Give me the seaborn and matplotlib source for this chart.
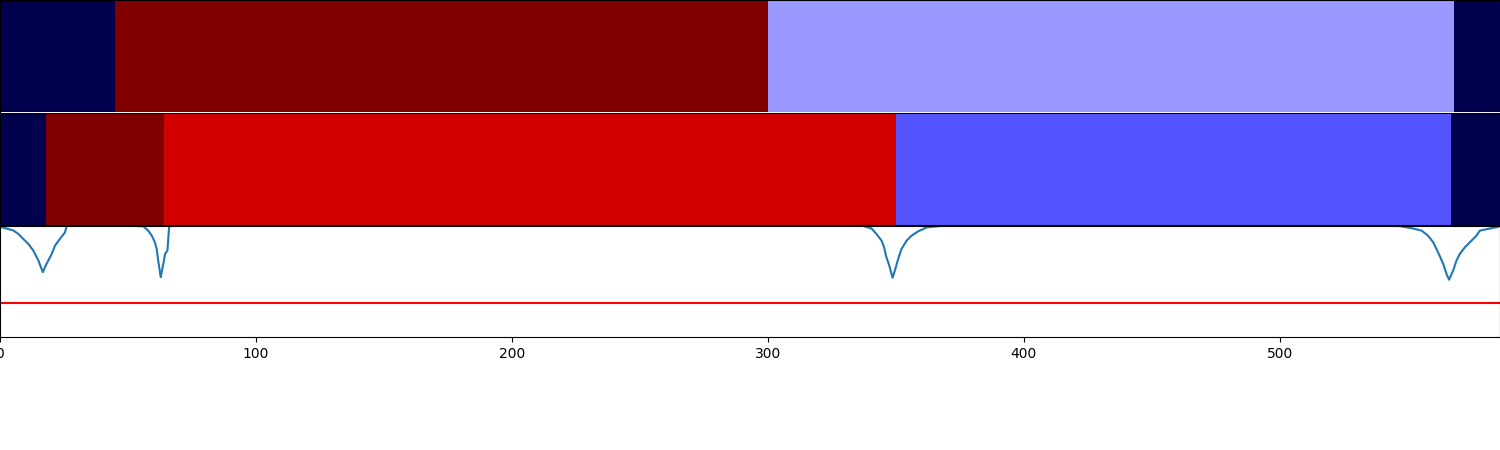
import numpy as np
import pandas as pd
import seaborn as sns
import matplotlib.pyplot as plt

# segment boundaries (frames) and the colour value of each segment
n_frames = 586
top_bounds = [0, 45, 300, 568, 586]
top_vals = [0.0, 1.0, 0.4, 0.0]
mid_bounds = [0, 18, 64, 350, 567, 586]
mid_vals = [0.0, 1.0, 0.84, 0.333, 0.0]

# novelty curve
nov_x = [0, 2.6, 5.2, 7.2, 9.1, 11.1, 13, 15, 16.7, 18.2, 20.2, 21.5, 23.4, 25.4, 26,
         40, 50,
         56, 57.9, 59.3, 60.5, 61.2, 61.8, 62.8, 63.8, 64.5, 65.4, 66.1,
         80, 200, 330,
         337.2, 340.5, 342.4, 344.4, 345.4, 346.1, 347.4, 348.7, 349.6, 350.9, 352.2,
         354.2, 356.1, 358.7, 362, 367.2,
         400, 500,
         539.1, 546.9, 552.1, 555.4, 557.9, 559.9, 561.8, 563.8, 565.1, 566.1, 567.7,
         569, 570.3, 572.3, 574.2, 576.8, 578.1, 582, 585.3]
nov_y = [0.99, 0.975, 0.958, 0.926, 0.882, 0.837, 0.778, 0.689, 0.585, 0.66, 0.748,
         0.822, 0.882, 0.941, 0.998,
         1.0, 1.0,
         0.995, 0.956, 0.911, 0.852, 0.793, 0.689, 0.54, 0.66, 0.748, 0.778, 0.998,
         1.0, 1.0, 1.0,
         0.998, 0.975, 0.926, 0.867, 0.807, 0.733, 0.644, 0.535, 0.6, 0.704, 0.793,
         0.867, 0.911, 0.95, 0.985, 0.998,
         1.0, 1.0,
         1.0, 0.997, 0.975, 0.956, 0.911, 0.852, 0.763, 0.659, 0.57, 0.517, 0.6,
         0.689, 0.748, 0.807, 0.852, 0.911, 0.956, 0.975, 0.99]
threshold = 0.307


def segments_to_row(bounds, vals):
    row = np.zeros(n_frames)
    for a, b, v in zip(bounds[:-1], bounds[1:], vals):
        row[a:b] = v
    return row.reshape(1, -1)


fig = plt.figure(figsize=(15, 4.5), dpi=100)
gs = fig.add_gridspec(3, 1, left=0, right=1, top=1, bottom=0.25, hspace=0.01)
ax_top = fig.add_subplot(gs[0])
ax_mid = fig.add_subplot(gs[1])
ax_nov = fig.add_subplot(gs[2])

for ax, bounds, vals in [(ax_top, top_bounds, top_vals), (ax_mid, mid_bounds, mid_vals)]:
    sns.heatmap(segments_to_row(bounds, vals), ax=ax, cmap="seismic", vmin=0, vmax=1,
                cbar=False, xticklabels=False, yticklabels=False)
    for s in ax.spines.values():
        s.set_visible(True)
    ax.set_xlim(0, n_frames)
    ax.set_xticks([])
    ax.set_yticks([])
ax_top.spines["bottom"].set_visible(False)

df = pd.DataFrame({"frame": nov_x, "novelty": nov_y})
sns.lineplot(data=df, x="frame", y="novelty", ax=ax_nov, color="#1f77b4",
             linewidth=1.5, estimator=None)
ax_nov.axhline(threshold, color="red", linewidth=1.5)
ax_nov.set_xlim(0, n_frames)
ax_nov.set_ylim(0, 1)
ax_nov.set_yticks([])
ax_nov.set_xlabel("")
ax_nov.set_ylabel("")

fig.savefig("out.png", dpi=100)
